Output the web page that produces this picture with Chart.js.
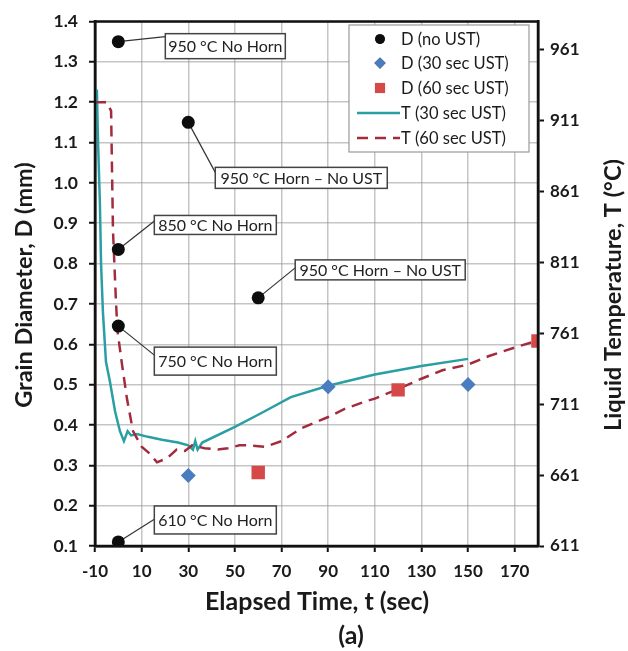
<!DOCTYPE html>
<html>
<head>
<meta charset="utf-8">
<script src="https://cdn.jsdelivr.net/npm/chart.js@4.4.1/dist/chart.umd.min.js"></script>
<style>
  html, body { margin: 0; padding: 0; background: #fff; }
  #wrap { width: 628px; height: 651px; }
</style>
</head>
<body>
<div id="wrap"><canvas id="c" width="628" height="651"></canvas></div>
<script>
// -- DATA -- //
const xTicks = [-10, 10, 30, 50, 70, 90, 110, 130, 150, 170]
const dTicks = [0.1, 0.2, 0.3, 0.4, 0.5, 0.6, 0.7, 0.8, 0.9, 1.0, 1.1, 1.2, 1.3, 1.4]
const tempTicks = [611, 661, 711, 761, 811, 861, 911, 961]

// grain diameter, no UST (black dots) and their notes
const tNoUST = [0, 30, 0, 60, 0, 0]
const dNoUST = [1.35, 1.15, 0.835, 0.715, 0.645, 0.11]
const noUSTNotes = ['950 °C No Horn', '950 °C Horn – No UST', '850 °C No Horn',
  '950 °C Horn – No UST', '750 °C No Horn', '610 °C No Horn']

// grain diameter with UST
const t30 = [30, 90, 150]
const d30 = [0.275, 0.495, 0.5]
const t60 = [60, 120, 180]
const d60 = [0.282, 0.487, 0.608]

// liquid temperature traces (°C)
const tTemp30 = [-9.2, -8.7, -7.9, -7.4, -6.6, -5.3, -3.6, -1.4, 0.7, 2.4, 4, 5.5, 8, 12.7, 18.7,
  25.6, 30, 32, 33, 34, 36, 50, 61.6, 74, 90, 110, 130, 150]
const temp30 = [933, 896, 853, 810, 776, 741, 727, 706, 692, 685, 692, 689, 690, 688, 686,
  684, 682, 679, 685, 679, 684, 695, 705, 716, 724, 732, 738, 743]

const tTemp60 = [-10, -5, -3.1, -2.3, -1, -0.3, 1.6, 3.7, 6.3, 10, 13.6, 16.6, 21, 25, 28.6, 31.6,
  37, 42.7, 47, 52, 56, 63, 70, 78.5, 90, 97.5, 106, 110, 119, 130, 139, 150, 159, 170, 180]
const temp60 = [924, 924, 918, 834, 783, 762, 739, 715, 692, 681, 676, 670, 673, 679, 678, 682,
  680, 679, 680, 682, 682, 681, 685, 694, 702, 708, 713, 715, 721, 729, 735, 739, 745, 751, 756]

// -- LAYOUT (pixels, not data) -- //
const callouts = [
  { dx: 47, dy: -8, w: 120, h: 25, ex: 47, ey: -5 },
  { dx: 27, dy: 45, w: 172, h: 21, ex: 27, ey: 50 },
  { dx: 36, dy: -34, w: 122, h: 19, ex: 38, ey: -30 },
  { dx: 37, dy: -38, w: 170, h: 20, ex: 37, ey: -30 },
  { dx: 36, dy: 21, w: 122, h: 28, ex: 36, ey: 29 },
  { dx: 36, dy: -36, w: 122, h: 28, ex: 38, ey: -24 }
]

const FONT = 'Lato, "Open Sans", sans-serif'
const INK = '#1a1a1a'
const TEAL = '#2a9fa3'
const MAROON = '#a22c3d'
const BLUE = '#4a7cc0'
const RED = '#d54a48'

const pts = (xs, ys) => xs.map((x, i) => ({ x: x, y: ys[i] }))
const fixTicks = list => scale => { scale.ticks = list.map(v => ({ value: v })) }

const decor = {
  id: 'decor',
  beforeDatasetsDraw(chart) {
    const ctx = chart.ctx
    const x = chart.scales.x, y = chart.scales.y
    ctx.save()
    ctx.strokeStyle = '#333'
    ctx.lineWidth = 1.2
    callouts.forEach((c, i) => {
      const px = x.getPixelForValue(tNoUST[i]), py = y.getPixelForValue(dNoUST[i])
      ctx.beginPath()
      ctx.moveTo(px, py)
      ctx.lineTo(px + c.ex, py + c.ey)
      ctx.stroke()
    })
    ctx.restore()
  },
  afterDatasetsDraw(chart) {
    const ctx = chart.ctx
    const x = chart.scales.x, y = chart.scales.y
    const a = chart.chartArea
    ctx.save()
    // callout boxes
    ctx.font = '16px ' + FONT
    ctx.textAlign = 'center'
    ctx.textBaseline = 'middle'
    callouts.forEach((c, i) => {
      const px = x.getPixelForValue(tNoUST[i]), py = y.getPixelForValue(dNoUST[i])
      const bx = px + c.dx, by = py + c.dy
      ctx.fillStyle = '#fff'
      ctx.fillRect(bx, by, c.w, c.h)
      ctx.strokeStyle = '#444'
      ctx.lineWidth = 1.5
      ctx.strokeRect(bx, by, c.w, c.h)
      ctx.fillStyle = '#222'
      ctx.fillText(noUSTNotes[i], bx + c.w / 2, by + c.h / 2 + 1)
    })

    // legend box
    const lx = 349, ly = 25, lw = 180, lh = 127
    ctx.fillStyle = '#fff'
    ctx.fillRect(lx, ly, lw, lh)
    ctx.strokeStyle = '#999'
    ctx.lineWidth = 1.2
    ctx.strokeRect(lx, ly, lw, lh)
    ctx.font = '16.5px ' + FONT
    ctx.textAlign = 'left'
    ctx.fillStyle = INK
    const rows = [39, 63, 88, 113, 138]
    chart.data.datasets.forEach((ds, i) => {
      const ry = rows[i], sx = 380
      ctx.save()
      if (ds.showLine) {
        ctx.strokeStyle = ds.borderColor
        ctx.lineWidth = 2.5
        ctx.setLineDash(ds.borderDash || [])
        ctx.beginPath()
        ctx.moveTo(357, ry)
        ctx.lineTo(400, ry)
        ctx.stroke()
      } else {
        Chart.helpers.drawPoint(ctx, {
          pointStyle: ds.pointStyle, radius: ds.pointRadius * 0.75, borderWidth: 0
        }, sx, ry)
        ctx.fillStyle = ds.backgroundColor
        ctx.fill()
      }
      ctx.restore()
      ctx.fillText(ds.label, 401, ry + 1)
    })

    // frame
    ctx.strokeStyle = '#111'
    ctx.lineWidth = 2.5
    ctx.strokeRect(a.left, a.top, a.right - a.left, a.bottom - a.top)

    // axis titles
    ctx.fillStyle = INK
    ctx.textAlign = 'center'
    ctx.font = 'bold 25px ' + FONT
    ctx.fillText('Elapsed Time, t (sec)', 317, 602)
    ctx.fillText('(a)', 351, 636)
    ctx.font = 'bold 23.5px ' + FONT
    ctx.save()
    ctx.translate(24, 285)
    ctx.rotate(-Math.PI / 2)
    ctx.fillText('Grain Diameter, D (mm)', 0, 0)
    ctx.restore()
    ctx.save()
    ctx.translate(613, 295)
    ctx.rotate(-Math.PI / 2)
    ctx.fillText('Liquid Temperature, T (°C)', 0, 0)
    ctx.restore()
    ctx.restore()
  }
}

new Chart(document.getElementById('c'), {
  type: 'scatter',
  data: {
    datasets: [
      { label: 'D (no UST)', data: pts(tNoUST, dNoUST), yAxisID: 'y', pointStyle: 'circle',
        pointRadius: 6.5, backgroundColor: '#0d0d0d', borderColor: '#0d0d0d', borderWidth: 0, order: 0 },
      { label: 'D (30 sec UST)', data: pts(t30, d30), yAxisID: 'y', pointStyle: 'rectRot',
        pointRadius: 7.5, backgroundColor: BLUE, borderColor: BLUE, borderWidth: 0, order: 1 },
      { label: 'D (60 sec UST)', data: pts(t60, d60), yAxisID: 'y', pointStyle: 'rect',
        pointRadius: 9.5, backgroundColor: RED, borderColor: RED, borderWidth: 0, order: 2 },
      { label: 'T (30 sec UST)', data: pts(tTemp30, temp30), yAxisID: 'yT', showLine: true,
        borderColor: TEAL, backgroundColor: TEAL, borderWidth: 2.5, pointRadius: 0, tension: 0, order: 4 },
      { label: 'T (60 sec UST)', data: pts(tTemp60, temp60), yAxisID: 'yT', showLine: true,
        borderColor: MAROON, backgroundColor: MAROON, borderWidth: 2.5, borderDash: [11, 7],
        pointRadius: 0, tension: 0, order: 3 }
    ]
  },
  options: {
    responsive: false,
    animation: false,
    events: [],
    layout: { padding: { top: 16, left: 0, right: 0, bottom: 0 } },
    plugins: { legend: { display: false }, tooltip: { enabled: false } },
    scales: {
      x: {
        type: 'linear', min: -10, max: 180,
        afterBuildTicks: fixTicks(xTicks),
        afterFit: s => { s.height = 105 },
        grid: { color: 'rgba(150,150,150,0.55)', lineWidth: 1.5, tickColor: '#111', tickWidth: 2, tickLength: 6 },
        border: { color: '#111', width: 2.5 },
        ticks: { color: INK, font: { family: FONT, size: 17, weight: 'bold' }, padding: 9, maxRotation: 0 }
      },
      y: {
        type: 'linear', position: 'left', min: 0.1, max: 1.4,
        afterBuildTicks: fixTicks(dTicks),
        afterFit: s => { s.width = 95 },
        grid: { color: 'rgba(150,150,150,0.55)', lineWidth: 1.5, tickColor: '#111', tickWidth: 2, tickLength: 6 },
        border: { color: '#111', width: 2.5 },
        ticks: { color: INK, font: { family: FONT, size: 17.5, weight: 'bold' }, padding: 11,
          callback: v => v.toFixed(1) }
      },
      yT: {
        type: 'linear', position: 'right', min: 611, max: 981,
        afterBuildTicks: fixTicks(tempTicks),
        afterFit: s => { s.width = 90 },
        grid: { drawOnChartArea: false, tickColor: '#111', tickWidth: 2, tickLength: 6 },
        border: { color: '#111', width: 2.5 },
        ticks: { color: INK, font: { family: FONT, size: 17, weight: 'bold' }, padding: 6 }
      }
    }
  },
  plugins: [decor]
})
</script>
</body>
</html>
